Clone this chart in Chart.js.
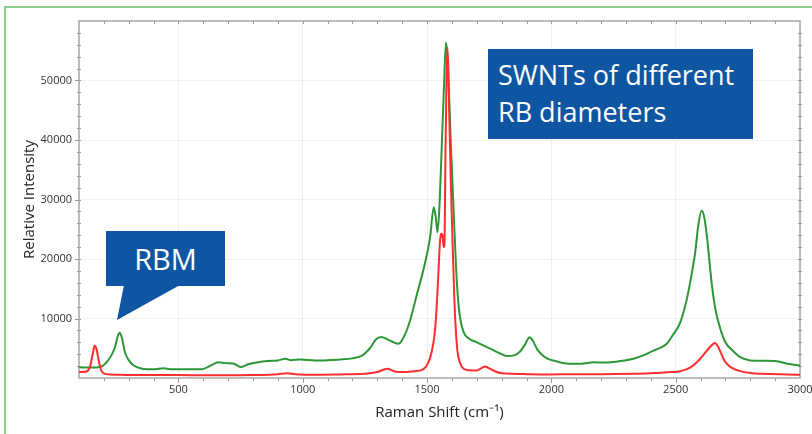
<!DOCTYPE html>
<html>
<head>
<meta charset="utf-8">
<script src="https://cdn.jsdelivr.net/npm/chart.js@4"></script>
<style>
  html, body { margin: 0; padding: 0; background: #fff; overflow: hidden; }
  #frame {
    position: absolute; left: 4px; top: 6px; width: 900px; height: 500px;
    border-left: 2px solid #8ccf8c; border-top: 2px solid #8ccf8c;
  }
  #wrap { position: absolute; left: 0; top: 0; width: 830px; height: 434px; }
  .note {
    position: absolute; background: #0f56a2; color: #fff;
    font-family: "Open Sans", sans-serif; box-sizing: border-box;
  }
  #swnt { left: 488px; top: 49px; width: 265px; height: 90px; font-size: 27px; line-height: 37px; padding: 7px 0 0 10px; }
  #rbm { left: 106px; top: 231px; width: 119px; height: 55px; font-size: 29px; line-height: 55px; text-align: center; }
  #rbmTail {
    position: absolute; left: 106px; top: 285px; width: 80px; height: 36px; background: #0f56a2;
    clip-path: polygon(18px 0, 74px 0, 11px 35px);
  }
</style>
</head>
<body>
<div id="frame"></div>
<div id="wrap"><canvas id="raman"></canvas></div>
<div class="note" id="swnt">SWNTs of different<br>RB diameters</div>
<div class="note" id="rbm">RBM</div>
<div id="rbmTail"></div>
<script>
// Raman spectra
const greenShift = [100, 150, 185, 210, 230, 245, 255, 263, 272, 285, 300, 320, 350, 400, 440, 470, 520, 590, 640, 660,
  690, 720, 750, 780, 820, 860, 900, 930, 950, 990, 1050, 1100, 1150, 1200, 1240, 1270, 1295, 1315, 1340, 1360,
  1385, 1410, 1432, 1460, 1490, 1512, 1527, 1535, 1542, 1550, 1560, 1568, 1576, 1582, 1588, 1595, 1602, 1610, 1620, 1630,
  1647, 1670, 1700, 1730, 1760, 1790, 1821, 1850, 1875, 1895, 1912, 1925, 1942, 1960, 1982, 2020, 2060, 2120, 2170, 2220,
  2276, 2330, 2370, 2410, 2440, 2464, 2490, 2518, 2545, 2560, 2578, 2592, 2604, 2615, 2625, 2635, 2645, 2660, 2678, 2700,
  2732, 2760, 2800, 2850, 2900, 2950, 3000];
const greenIntensity = [1800, 1750, 1850, 2600, 3800, 5200, 6900, 7600, 6800, 4300, 3000, 2100, 1600, 1450, 1650, 1450, 1450, 1450, 2300, 2650,
  2500, 2450, 1850, 2300, 2650, 2850, 2950, 3250, 3000, 3100, 2950, 3000, 3100, 3300, 3800, 5000, 6500, 6900, 6500, 6100,
  5750, 7200, 9700, 14200, 19000, 23600, 28700, 27000, 24500, 29000, 40000, 49000, 56400, 54000, 48000, 40000, 33000, 25000, 16000, 11000,
  7700, 6600, 6000, 5400, 4800, 4200, 3700, 3800, 4500, 5700, 6850, 6300, 4900, 4000, 3300, 2800, 2450, 2400, 2650, 2600,
  2850, 3250, 3800, 4600, 5100, 5750, 7300, 9300, 13300, 16500, 21000, 26000, 28100, 27000, 24000, 20000, 15800, 11500, 8500, 6000,
  4500, 3500, 2950, 2900, 2850, 2400, 2100];

const redShift = [100, 130, 145, 155, 163, 170, 180, 190, 210, 250, 300, 400, 500, 600, 700, 800, 900, 937, 970, 1050,
  1150, 1250, 1300, 1339, 1370, 1400, 1450, 1480, 1500, 1513, 1525, 1533, 1540, 1546, 1552, 1557, 1562, 1567, 1570, 1574,
  1578, 1582, 1586, 1590, 1595, 1600, 1605, 1610, 1615, 1622, 1632, 1647, 1670, 1700, 1720, 1734, 1750, 1775, 1800, 1846,
  1900, 1982, 2100, 2200, 2317, 2400, 2480, 2518, 2560, 2585, 2610, 2638, 2658, 2670, 2678, 2690, 2705, 2730, 2759, 2800,
  2852, 2950, 3000];
const redIntensity = [1000, 1100, 2000, 4000, 5400, 4900, 2800, 1200, 650, 550, 500, 500, 500, 450, 450, 500, 650, 800, 650, 550,
  600, 700, 1000, 1550, 1100, 1000, 1150, 1350, 2200, 3500, 5800, 8500, 13000, 18000, 23000, 24300, 23900, 22000, 22500, 37700,
  50000, 55500, 51000, 43200, 34000, 26400, 19500, 13000, 8500, 4600, 2600, 1550, 1300, 1250, 1700, 1950, 1600, 1100, 800, 700,
  650, 600, 650, 650, 700, 800, 1000, 1150, 1800, 2650, 3800, 5200, 5900, 5300, 4600, 3400, 2400, 1600, 1150, 850,
  700, 600, 550];

const xTickValues = [500, 1000, 1500, 2000, 2500, 3000];
const yTickValues = [10000, 20000, 30000, 40000, 50000];

const toPoints = (xs, ys) => xs.map((x, i) => ({ x: x, y: ys[i] }));

// box round the plot plus the small minor ticks
const frameTicks = {
  id: 'frameTicks',
  beforeDatasetsDraw(chart) {
    const { ctx, chartArea: a, scales: { x, y } } = chart;
    ctx.save();
    ctx.strokeStyle = '#a8a8a8';
    ctx.lineWidth = 1.5;
    ctx.strokeRect(a.left, a.top, a.right - a.left, a.bottom - a.top);
    ctx.lineWidth = 1;
    ctx.strokeStyle = '#9a9a9a';
    ctx.beginPath();
    for (let v = 200; v < 3000; v += 100) {
      const px = Math.round(x.getPixelForValue(v)) + 0.5;
      const len = v % 500 === 0 ? 5 : 3;
      ctx.moveTo(px, a.bottom); ctx.lineTo(px, a.bottom + len);
      ctx.moveTo(px, a.top); ctx.lineTo(px, a.top + 3);
    }
    for (let v = 2000; v < 60000; v += 2000) {
      const py = Math.round(y.getPixelForValue(v)) + 0.5;
      const len = v % 10000 === 0 ? 4 : 2;
      ctx.moveTo(a.left - len, py); ctx.lineTo(a.left + 2, py);
      ctx.moveTo(a.right - 2, py); ctx.lineTo(a.right + 2, py);
    }
    ctx.stroke();
    ctx.restore();
  }
};

const tickFont = { family: 'Open Sans', size: 11 };
const titleFont = { family: 'Open Sans', size: 15 };
const plainNumber = v => String(v);

new Chart(document.getElementById('raman'), {
  type: 'line',
  data: {
    datasets: [
      {
        label: 'Red',
        data: toPoints(redShift, redIntensity),
        borderColor: 'rgb(255, 45, 45)',
        borderWidth: 2,
        pointRadius: 0,
        cubicInterpolationMode: 'monotone'
      },
      {
        label: 'Green',
        data: toPoints(greenShift, greenIntensity),
        borderColor: 'rgb(45, 150, 55)',
        borderWidth: 2,
        pointRadius: 0,
        cubicInterpolationMode: 'monotone'
      }
    ]
  },
  plugins: [frameTicks],
  options: {
    responsive: true,
    maintainAspectRatio: false,
    animation: false,
    layout: { padding: { left: 0, top: 21, right: 30, bottom: 0 } },
    plugins: {
      legend: { display: false },
      tooltip: { enabled: false }
    },
    scales: {
      x: {
        type: 'linear',
        min: 100,
        max: 3000,
        afterBuildTicks: s => { s.ticks = xTickValues.map(v => ({ value: v })); },
        afterFit: s => { s.height = 56; },
        grid: { color: 'rgba(0, 0, 0, 0.06)', drawTicks: false },
        border: { display: false },
        ticks: { font: tickFont, color: '#333', padding: 5, maxRotation: 0, autoSkip: false, callback: plainNumber },
        title: { display: true, text: 'Raman Shift (cm⁻¹)', font: titleFont, color: '#222', padding: { top: 0, bottom: 12 } }
      },
      y: {
        min: 0,
        max: 60000,
        afterBuildTicks: s => { s.ticks = yTickValues.map(v => ({ value: v })); },
        afterFit: s => { s.width = 79; },
        grid: { color: 'rgba(0, 0, 0, 0.06)', drawTicks: false },
        border: { display: false },
        ticks: { font: tickFont, color: '#333', padding: 7, callback: plainNumber },
        title: { display: true, text: 'Relative Intensity', font: titleFont, color: '#222', padding: { top: 21, bottom: 0 } }
      }
    }
  }
});
</script>
</body>
</html>
